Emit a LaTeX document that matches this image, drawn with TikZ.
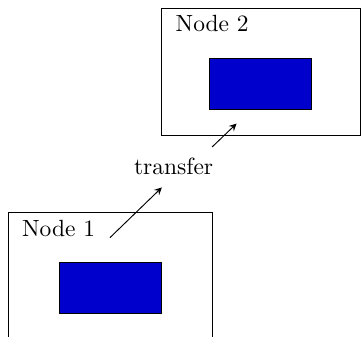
\documentclass[tikz,border=0pt]{standalone}
\usepackage{tikz}
\usetikzlibrary{positioning}

\begin{document}
\begin{tikzpicture}
  [frame/.style={draw, minimum width=87pt, minimum height=54pt, inner sep=0pt},
   core/.style={draw, fill=blue!80!black, minimum width=43.5pt, minimum height=21.7pt, inner sep=0pt},
   tag/.style={anchor=north west, inner xsep=6pt, inner ysep=3pt},
   >=stealth, x=1pt, y=1pt]
  \useasboundingbox (-46.9,-25.6) rectangle (107,117.7);
  \node [frame] (box1) at (0,0) {};
  \node [frame, minimum width=84.6pt] (box2) at (64.3,87.1) {};
  \node [core] (core1) [above=11pt of box1.south] {};
  \node [core] (core2) [above=11pt of box2.south] {};
  \node [tag] (tag1) at (box1.north west) {Node 1};
  \node [tag] (tag2) at (box2.north west) {Node 2};
  \node (transfer) at (27.1,46.9) {transfer};

  \coordinate (out1) at ([yshift=-10.8pt]box1.north);
  \coordinate (in2) at ([shift={(11.6pt,-5.9pt)}]core2.south west);
  \draw [->] (out1) -- ([shift={(-5pt,-2pt)}]transfer.south);
  \draw [->] ([shift={(-4pt,1pt)}]transfer.north east) -- (in2);
\end{tikzpicture}
\end{document}
